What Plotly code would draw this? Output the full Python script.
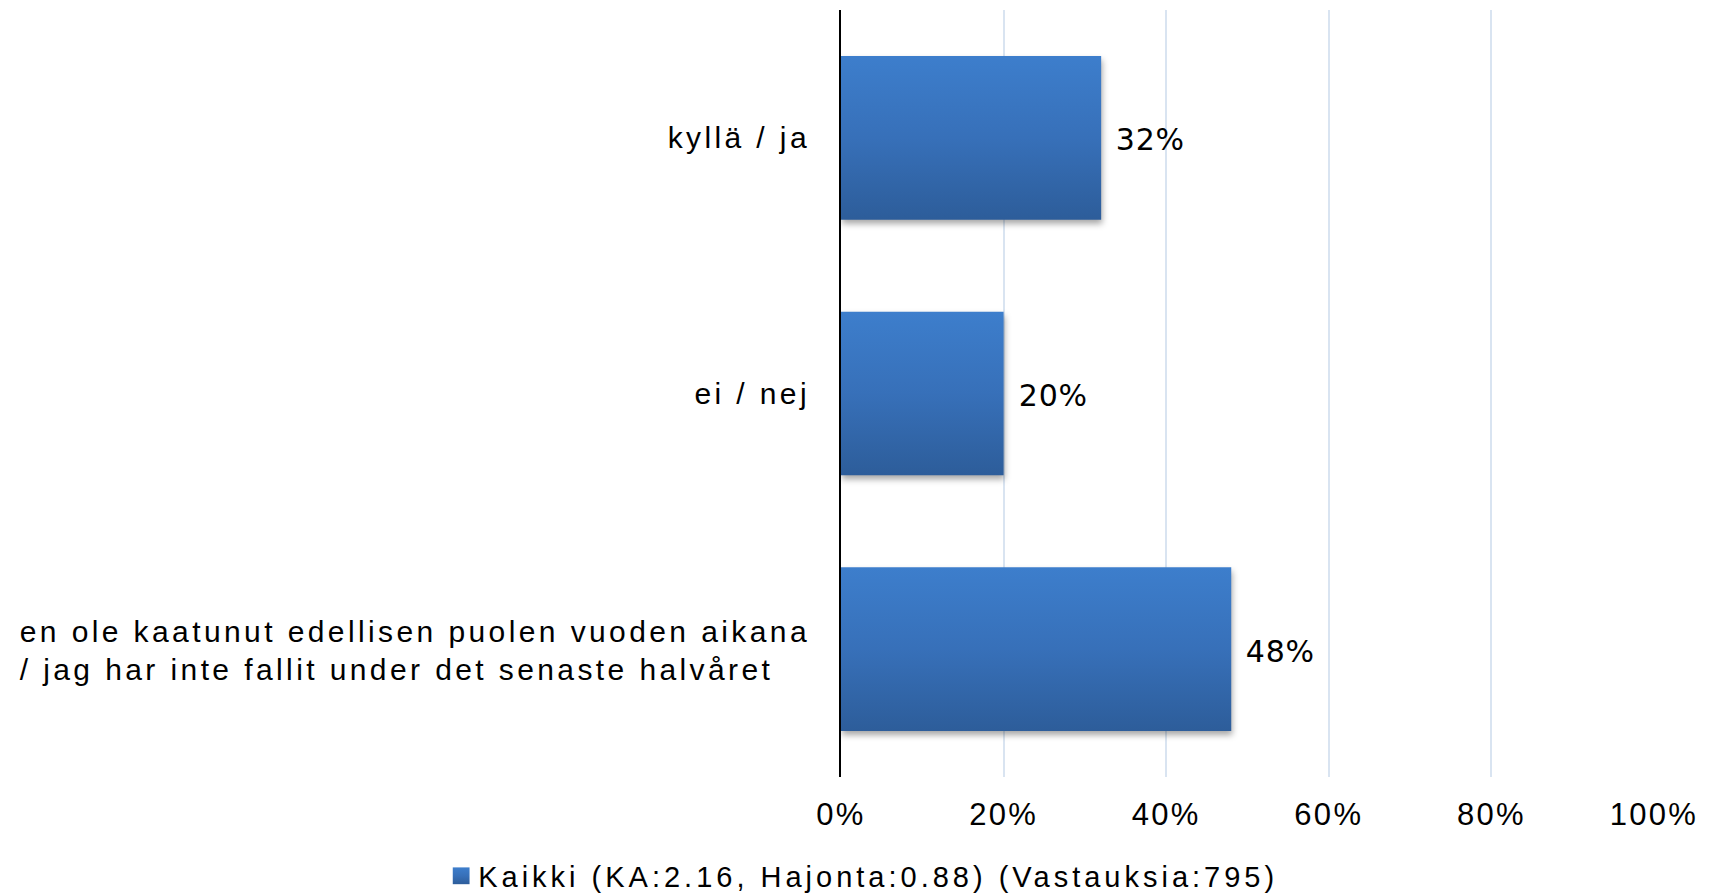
import plotly.graph_objects as go

# ---- data ----
categories = [
    "kyllä / ja",
    "ei / nej",
    "en ole kaatunut edellisen puolen vuoden aikana<br>/ jag har inte fallit under det senaste halvåret",
]
values = [0.32, 0.20, 0.48]
series_name = "Kaikki (KA:2.16, Hajonta:0.88) (Vastauksia:795)"
x_ticks = [0, 0.2, 0.4, 0.6, 0.8, 1.0]
x_tick_labels = ["0%", "20%", "40%", "60%", "80%", "100%"]
data_labels = [f"{round(v * 100)}%" for v in values]

fig = go.Figure(
    go.Bar(
        x=values,
        y=categories,
        orientation="h",
        name=series_name,
        marker=dict(color="#3670b8", line=dict(width=0)),
        hoverinfo="skip",
    )
)

fig.update_layout(
    width=1697,
    height=886,
    margin=dict(l=833, r=51, t=2, b=117, autoexpand=False),
    plot_bgcolor="white",
    paper_bgcolor="white",
    bargap=0.36,
    showlegend=True,
    legend=dict(
        orientation="h",
        x=-0.4955,
        xanchor="left",
        y=-0.129,
        yanchor="middle",
        font=dict(family="Liberation Sans", size=29, color="#000"),
        bgcolor="rgba(0,0,0,0)",
    ),
)

fig.update_xaxes(
    range=[0, 1],
    tickvals=x_ticks,
    ticktext=x_tick_labels,
    showgrid=True,
    gridcolor="#d9e4f1",
    gridwidth=2,
    zeroline=False,
    showline=False,
    ticks="",
    ticklabelstandoff=16,
    tickfont=dict(family="Liberation Sans", size=31, color="#000"),
)

fig.update_yaxes(
    categoryorder="array",
    categoryarray=categories,
    autorange="reversed",
    showline=True,
    linecolor="#000",
    linewidth=2,
    showgrid=False,
    zeroline=False,
    ticks="",
    ticklabelstandoff=23,
    tickfont=dict(family="Liberation Sans", size=30, color="#000"),
)

for c, v, t in zip(categories, values, data_labels):
    fig.add_annotation(
        x=v, y=c, xref="x", yref="y", text=t, showarrow=False,
        xanchor="left", xshift=14, yshift=-2,
        font=dict(family="DejaVu Sans", size=30, color="#000"),
    )

post_js = """
var gd = document.getElementById('{plot_id}');
var svg = gd.querySelector('svg.main-svg');
var defs = svg.querySelector('defs');
var ns = 'http://www.w3.org/2000/svg';
var lg = document.createElementNS(ns, 'linearGradient');
lg.setAttribute('id', 'bargrad');
lg.setAttribute('x1', '0'); lg.setAttribute('y1', '0');
lg.setAttribute('x2', '0'); lg.setAttribute('y2', '1');
[['0', '#3d7ecc'], ['0.5', '#3770b9'], ['1', '#2d5d9a']].forEach(function (s) {
  var st = document.createElementNS(ns, 'stop');
  st.setAttribute('offset', s[0]);
  st.setAttribute('stop-color', s[1]);
  lg.appendChild(st);
});
defs.appendChild(lg);
gd.querySelectorAll('.barlayer .point path').forEach(function (p) {
  p.style.fill = 'url(#bargrad)';
  p.style.filter = 'drop-shadow(1px 4px 3px rgba(0,0,0,0.35))';
});
gd.querySelectorAll('.legendpoints path').forEach(function (p) {
  p.style.fill = 'url(#bargrad)';
  p.setAttribute('transform', 'translate(23,0) scale(1.4)');
});
gd.querySelectorAll('.legend [clip-path]').forEach(function (e) {
  e.removeAttribute('clip-path');
});
function ls(sel, v) {
  gd.querySelectorAll(sel).forEach(function (t) { t.style.letterSpacing = v; });
}
ls('.ytick text', '3.4px');
ls('.xtick text', '2.3px');
ls('.legendtext', '4px');
ls('.annotation-text', '0.8px');
gd.querySelectorAll('.ytick text').forEach(function (t) {
  var lines = t.querySelectorAll('tspan.line');
  if (lines.length > 1) {
    var w = 0;
    lines.forEach(function (l) { w = Math.max(w, l.getComputedTextLength()); });
    var x = parseFloat(t.getAttribute('x'));
    t.setAttribute('text-anchor', 'start');
    lines.forEach(function (l, i) {
      l.setAttribute('x', x - w);
      if (i === 0) { l.setAttribute('dy', '0.06em'); }
      else { l.setAttribute('dy', '1.32em'); }
    });
  }
});
"""

fig.write_html("out.html", config={"displayModeBar": False}, post_script=post_js)
